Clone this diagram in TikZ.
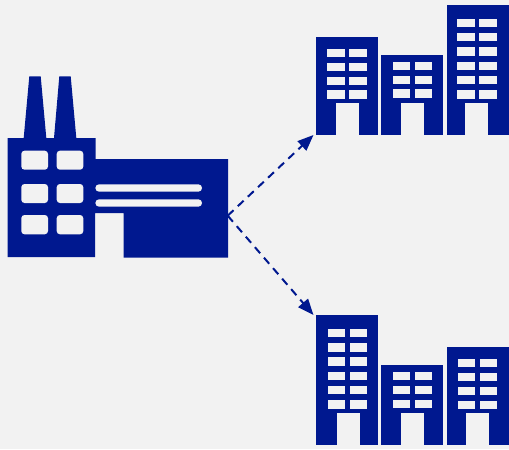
\documentclass[tikz,border=0pt]{standalone}
\usetikzlibrary{arrows.meta}
\definecolor{bgc}{HTML}{F2F2F2}
\definecolor{navy}{HTML}{00188F}
\tikzset{
  solid shape/.style={fill=navy,draw=none},
  pane/.style={fill=bgc,draw=none},
  round pane/.style={fill=bgc,draw=none,rounded corners=2.4pt},
  flow/.style={navy,line width=1.5pt,dash pattern=on 6pt off 4.4pt,-{Triangle[length=12pt,width=9.5pt,sep=0pt]}},
}
% \windows{x1}{x2}{x3}{x4}{list of row tops}
\newcommand{\windowgrid}[5]{%
  \foreach \ry in {#5}{
    \fill[pane] (#1,\ry) rectangle (#2,\ry+8.3);
    \fill[pane] (#3,\ry) rectangle (#4,\ry+8.3);
  }}
% \tower{x1}{x2}{top}{bottom}{doorx1}{doorx2}{doortop}
\newcommand{\towerbody}[7]{%
  \fill[solid shape] (#1,#3) rectangle (#2,#4);
  \fill[pane] (#5,#7) rectangle (#6,#4);}
\begin{document}
\begin{tikzpicture}[x=0.75pt,y=-0.75pt]
\fill[bgc] (0,0) rectangle (509,449);
\useasboundingbox (0,0) rectangle (509,449);
% factory
\fill[solid shape] (23.7,138) -- (29.3,76.3) -- (40.7,76.3) -- (46.3,138) -- (54,138) -- (59.3,76.3) -- (70.7,76.3) -- (76.3,138)
  -- (95.5,138) -- (95.5,159) -- (228,159) -- (228,257.5) -- (123.7,257.5) -- (123.7,213) -- (95,213) -- (95,257) -- (7.5,257) -- (7.5,138) -- cycle;
\foreach \ya/\yb in {150.7/169.7,184/203,215/234.3}{
  \fill[round pane] (21.3,\ya) rectangle (48,\yb);
  \fill[round pane] (56.7,\ya) rectangle (83.3,\yb);
}
\fill[bgc,rounded corners=2.7pt] (95.4,184.3) rectangle (202,191.7);
\fill[bgc,rounded corners=2.7pt] (95.4,199.3) rectangle (202,206.7);
% upper buildings
\towerbody{316}{378.3}{37}{134.7}{335.7}{358.7}{103.3}
\windowgrid{327.3}{345}{349.3}{367}{49,63,76.7,90.5}
\towerbody{381.3}{443.3}{55.3}{134.7}{401}{424}{103.3}
\windowgrid{392.7}{410}{415}{432}{61.7,75.7,89.3}
\towerbody{446.7}{508.7}{5}{134.7}{465}{488}{103.3}
\windowgrid{457.3}{474.7}{479.3}{496.7}{18.7,33,47.3,61.7,76,90.3}
% lower buildings
\towerbody{316}{378.3}{315}{444.7}{337}{360}{413.3}
\windowgrid{328.3}{345.3}{350.3}{367.3}{329,343.3,357.3,371.7,386,400.3}
\towerbody{381.3}{443.3}{365.3}{444.7}{401}{424}{413.3}
\windowgrid{392.7}{410}{415}{432}{372,386,399.7}
\towerbody{446.7}{508.7}{347}{444.7}{466.3}{489.3}{413.3}
\windowgrid{458.3}{475.3}{480.3}{497.3}{359,373,386.7,400.7}
% connectors
\coordinate (factory) at (227.7,215.7);
\coordinate (upper) at (313.5,135);
\coordinate (lower) at (313.5,315);
\draw[flow] (factory) -- (upper);
\draw[flow] (factory) -- (lower);
\end{tikzpicture}
\end{document}
